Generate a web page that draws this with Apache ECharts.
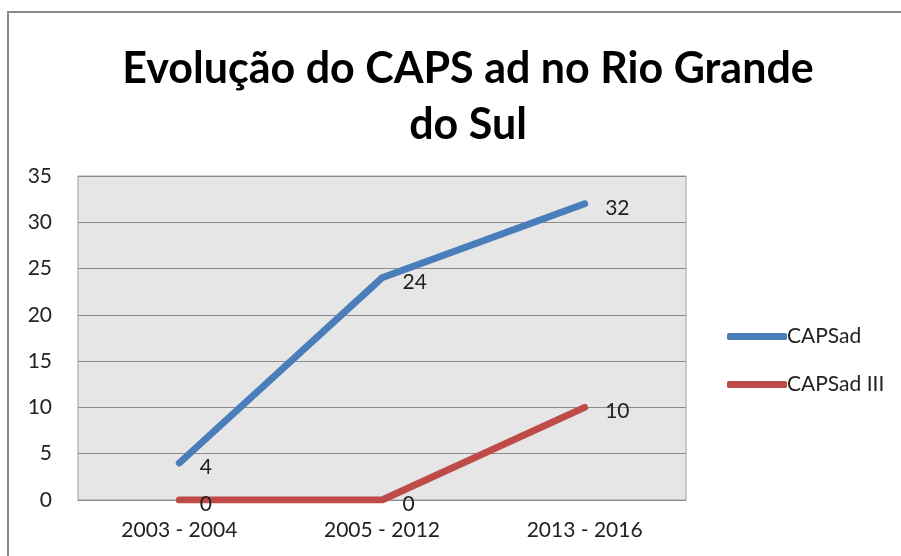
<!DOCTYPE html>
<html>
<head>
<meta charset="utf-8">
<script src="https://cdn.jsdelivr.net/npm/echarts@6/dist/echarts.min.js"></script>
<style>
  html, body { margin: 0; padding: 0; background: #fff; }
  #container { width: 901px; height: 556px; }
</style>
</head>
<body>
<div id="container"></div>
<script type="text/javascript">
var categories = ['2003 - 2004', '2005 - 2012', '2013 - 2016'];
var capsad = [4, 24, 32];
var capsad3 = [0, 0, 10];
var yTicks = [0, 5, 10, 15, 20, 25, 30, 35];

var dom = document.getElementById('container');
var myChart = echarts.init(dom);

var lineModel = function (name, data, color) {
    return {
        name: name,
        type: 'line',
        data: data,
        symbol: 'circle',
        symbolSize: 1,
        showSymbol: true,
        lineStyle: { color: color, width: 7, cap: 'round', join: 'round' },
        itemStyle: { color: color },
        label: {
            show: true,
            position: 'right',
            distance: 20,
            offset: [0, 4],
            color: '#222',
            fontSize: 21,
            fontFamily: 'Lato'
        },
        z: 3
    };
};

var option = {
    backgroundColor: '#fff',
    animation: false,
    graphic: [
        {
            type: 'rect',
            shape: { x: 8, y: 12, width: 1000, height: 600 },
            style: { fill: 'none', stroke: '#8a8a8a', lineWidth: 2 },
            z: -1
        }
    ],
    title: {
        text: 'Evolução do CAPS ad no Rio Grande\ndo Sul',
        left: 463,
        top: 36,
        textAlign: 'center',
        textStyle: {
            fontFamily: 'Lato',
            fontWeight: 'bold',
            fontSize: 43,
            lineHeight: 56,
            color: '#000'
        }
    },
    legend: {
        orient: 'vertical',
        left: 722,
        top: 321,
        icon: 'roundRect',
        itemWidth: 60,
        itemHeight: 7,
        itemGap: 27,
        textStyle: { fontFamily: 'Lato', fontSize: 21, color: '#222', padding: [0, 0, 0, -5] },
        data: ['CAPSad', 'CAPSad III']
    },
    grid: {
        left: 78,
        top: 176,
        width: 608,
        height: 324,
        show: true,
        backgroundColor: '#e6e6e6',
        borderColor: '#a0a0a0',
        borderWidth: 1
    },
    xAxis: {
        type: 'category',
        data: categories,
        boundaryGap: true,
        axisLine: { lineStyle: { color: '#8c8c8c', width: 1 } },
        axisTick: { show: false },
        axisLabel: { fontFamily: 'Lato', fontSize: 21, color: '#222', margin: 20 }
    },
    yAxis: {
        type: 'value',
        min: yTicks[0],
        max: yTicks[yTicks.length - 1],
        interval: 5,
        axisLine: { show: false },
        axisTick: { show: false },
        splitLine: { lineStyle: { color: '#8c8c8c', width: 1 } },
        axisLabel: { fontFamily: 'Lato', fontSize: 21, color: '#222', margin: 26 }
    },
    series: [
        lineModel('CAPSad', capsad, '#4a7ebb'),
        lineModel('CAPSad III', capsad3, '#be4b48')
    ]
};
myChart.setOption(option);
</script>
</body>
</html>
